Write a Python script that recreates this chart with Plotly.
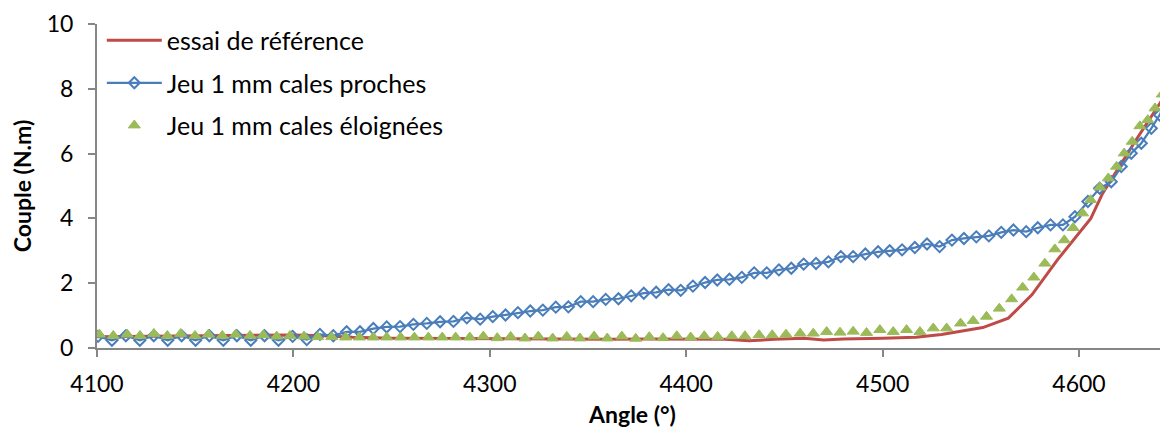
import plotly.graph_objects as go

# ---- data ----
ref_angle = [4100, 4120, 4150, 4180, 4200, 4215, 4230, 4250, 4280, 4300, 4330, 4360, 4380,
             4400, 4420, 4432, 4445, 4460, 4470, 4480, 4490, 4500, 4517, 4530, 4551, 4564,
             4576, 4589, 4606, 4612, 4629, 4645]
ref_torque = [0.35, 0.36, 0.37, 0.38, 0.40, 0.38, 0.33, 0.30, 0.29, 0.28, 0.28, 0.27, 0.28,
              0.28, 0.27, 0.22, 0.27, 0.30, 0.25, 0.28, 0.30, 0.30, 0.33, 0.42, 0.63, 0.92,
              1.64, 2.72, 4.00, 4.77, 6.42, 7.90]

proches_angle = [4100.5, 4107.6, 4114.7, 4121.8, 4128.9, 4136.0, 4143.1, 4150.2, 4157.2, 4164.3,
                 4171.2, 4178.3, 4185.3, 4192.4, 4199.6, 4206.8, 4213.5, 4220.3, 4227.1, 4233.9,
                 4240.7, 4247.5, 4254.3, 4261.1, 4267.9, 4274.7, 4281.5, 4288.3, 4295.1, 4301.5,
                 4308.0, 4314.3, 4320.6, 4327.0, 4333.6, 4340.0, 4346.3, 4352.6, 4359.0, 4365.5,
                 4372.0, 4378.4, 4384.7, 4391.0, 4397.2, 4403.4, 4409.6, 4415.8, 4422.0, 4428.3,
                 4434.6, 4441.0, 4447.2, 4453.5, 4459.8, 4466.1, 4472.4, 4478.7, 4485.0, 4491.2,
                 4497.7, 4503.6, 4509.9, 4516.4, 4522.6, 4529.0, 4535.3, 4541.4, 4547.7, 4554.1,
                 4560.4, 4566.6, 4573.1, 4579.0, 4585.5, 4591.8, 4597.9, 4604.5, 4610.5, 4616.4,
                 4621.5, 4626.6, 4631.7, 4636.8, 4641.0, 4644.4]
proches_torque = [0.36, 0.24, 0.38, 0.24, 0.38, 0.24, 0.38, 0.24, 0.38, 0.24,
                  0.38, 0.24, 0.38, 0.24, 0.36, 0.26, 0.42, 0.38, 0.50, 0.50,
                  0.60, 0.65, 0.66, 0.73, 0.76, 0.81, 0.82, 0.93, 0.89, 0.97,
                  1.02, 1.09, 1.14, 1.17, 1.26, 1.27, 1.43, 1.43, 1.50, 1.52,
                  1.61, 1.69, 1.72, 1.80, 1.78, 1.91, 2.02, 2.10, 2.12, 2.18,
                  2.32, 2.32, 2.41, 2.46, 2.59, 2.61, 2.66, 2.82, 2.82, 2.90,
                  2.97, 3.00, 3.03, 3.10, 3.21, 3.13, 3.33, 3.38, 3.43, 3.46,
                  3.57, 3.64, 3.59, 3.71, 3.80, 3.80, 4.05, 4.52, 4.93, 5.13,
                  5.60, 6.01, 6.32, 6.78, 7.19, 7.60]

eloignees_angle = [4101.2, 4108.3, 4115.4, 4121.9, 4129.0, 4135.8, 4142.6, 4149.9, 4156.7, 4163.8,
                   4170.6, 4177.9, 4184.7, 4191.5, 4198.3, 4205.4, 4212.4, 4219.5, 4226.6, 4233.6,
                   4240.7, 4247.5, 4254.6, 4261.6, 4268.7, 4275.8, 4282.6, 4289.8, 4296.7, 4303.8,
                   4310.6, 4317.9, 4324.7, 4332.0, 4339.2, 4345.9, 4353.1, 4359.8, 4367.2, 4374.3,
                   4381.2, 4388.2, 4395.2, 4402.3, 4409.2, 4416.0, 4423.2, 4429.9, 4437.1, 4443.8,
                   4450.8, 4458.0, 4464.7, 4471.5, 4478.3, 4485.0, 4491.8, 4498.6, 4505.4, 4512.2,
                   4519.0, 4525.8, 4532.6, 4539.7, 4546.1, 4552.9, 4559.4, 4565.7, 4571.3, 4577.0,
                   4582.6, 4587.7, 4592.5, 4597.0, 4601.8, 4605.9, 4610.6, 4614.9, 4619.1, 4623.0,
                   4627.1, 4631.0, 4635.0, 4638.7, 4642.4, 4645.0]
eloignees_torque = [0.42, 0.38, 0.42, 0.38, 0.44, 0.38, 0.44, 0.38, 0.42, 0.38,
                    0.42, 0.38, 0.40, 0.36, 0.38, 0.36, 0.34, 0.34, 0.33, 0.33,
                    0.33, 0.33, 0.33, 0.33, 0.33, 0.33, 0.33, 0.33, 0.36, 0.31,
                    0.35, 0.30, 0.36, 0.30, 0.35, 0.30, 0.36, 0.30, 0.36, 0.29,
                    0.34, 0.31, 0.37, 0.33, 0.37, 0.35, 0.37, 0.37, 0.40, 0.40,
                    0.42, 0.45, 0.45, 0.50, 0.48, 0.51, 0.47, 0.56, 0.50, 0.56,
                    0.50, 0.61, 0.61, 0.76, 0.84, 0.97, 1.22, 1.51, 1.87, 2.18,
                    2.61, 3.05, 3.33, 3.71, 4.16, 4.57, 4.96, 5.24, 5.60, 6.01,
                    6.37, 6.85, 7.04, 7.40, 7.83, 8.22]

x_ticks = [4100, 4200, 4300, 4400, 4500, 4600]
y_ticks = [0, 2, 4, 6, 8, 10]

names = ["essai de référence", "Jeu 1 mm cales proches", "Jeu 1 mm cales éloignées"]

RED = "#BE4B48"
BLUE = "#4A7EBB"
GREEN = "#9BBB59"
AXIS = "#868686"
FONT = "Lato, Liberation Sans, sans-serif"

fig = go.Figure()
fig.add_trace(go.Scatter(x=ref_angle, y=ref_torque, mode="lines", name=names[0],
                         legendgroup="a", line=dict(color=RED, width=3)))
fig.add_trace(go.Scatter(x=proches_angle, y=proches_torque, mode="lines+markers", name=names[1],
                         legendgroup="b", line=dict(color=BLUE, width=2.25),
                         marker=dict(symbol="diamond-open", size=8.5, color=BLUE,
                                     line=dict(width=2, color=BLUE))))
fig.add_trace(go.Scatter(x=eloignees_angle, y=eloignees_torque, mode="markers", name=names[2],
                         legendgroup="c",
                         marker=dict(symbol="triangle-up", size=10.5, color=GREEN,
                                     line=dict(width=1, color=GREEN))))

# page body has an 8 px margin, so the figure is 8 px smaller and margins shifted
fig.update_layout(
    width=1160, height=420,
    margin=dict(l=89, r=0, t=16, b=80, autoexpand=False),
    paper_bgcolor="white", plot_bgcolor="white",
    font=dict(family=FONT, color="black", size=23),
    showlegend=True,
    legend=dict(x=0.0045, y=1.02, xanchor="left", yanchor="top",
                bgcolor="rgba(255,255,255,0)", font=dict(size=25, family=FONT),
                itemwidth=55, traceorder="grouped", tracegroupgap=7),
    xaxis=dict(range=[4100, 4645.3], tickvals=x_ticks, ticktext=[str(v) for v in x_ticks],
               showgrid=False, zeroline=False, showline=True, linecolor=AXIS, linewidth=2,
               ticks="outside", ticklen=7, tickcolor=AXIS, tickwidth=2, automargin=False,
               tickfont=dict(size=23, family=FONT), ticklabelstandoff=7,
               title=dict(text="<b>Angle (°)</b>", font=dict(size=23, family=FONT), standoff=14)),
    yaxis=dict(range=[0, 10], tickvals=y_ticks, ticktext=[str(v) for v in y_ticks],
               showgrid=False, zeroline=False, showline=True, linecolor=AXIS, linewidth=2,
               ticks="outside", ticklen=7, tickcolor=AXIS, tickwidth=2, automargin=False,
               tickfont=dict(size=23, family=FONT), ticklabelstandoff=10,
               title=dict(text="<b>Couple (N.m)</b>", font=dict(size=23, family=FONT), standoff=18)),
)

fig.write_html("out.html")
